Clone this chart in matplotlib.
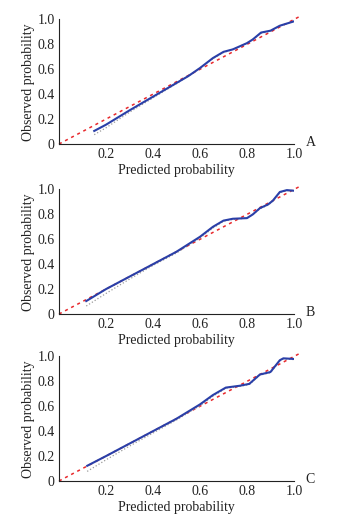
import numpy as np
import matplotlib
matplotlib.use("Agg")
import matplotlib.pyplot as plt

plt.rcParams['font.family'] = ['Liberation Serif', 'DejaVu Serif']

# apparent (blue) calibration curves
xa = [0.15, 0.2, 0.3, 0.4, 0.5, 0.55, 0.6, 0.655, 0.7, 0.74, 0.8, 0.825, 0.86, 0.9, 0.94, 1.0]
ya = [0.105, 0.155, 0.27, 0.38, 0.49, 0.545, 0.61, 0.69, 0.74, 0.76, 0.81, 0.84, 0.895, 0.91, 0.95, 0.985]
ga = [0.075, 0.13, 0.255, 0.37, 0.485, 0.545, 0.61, 0.685, 0.735, 0.76, 0.81, 0.84, 0.89, 0.905, 0.95, 0.985]

xb = [0.116, 0.2, 0.3, 0.4, 0.5, 0.6, 0.655, 0.7, 0.74, 0.8, 0.825, 0.855, 0.89, 0.91, 0.94, 0.97, 1.0]
yb = [0.104, 0.2, 0.3, 0.40, 0.50, 0.62, 0.70, 0.75, 0.765, 0.77, 0.80, 0.85, 0.88, 0.91, 0.98, 0.995, 0.99]
gb = [0.064, 0.165, 0.28, 0.39, 0.49, 0.61, 0.69, 0.745, 0.76, 0.77, 0.80, 0.845, 0.875, 0.905, 0.975, 0.99, 0.985]

xc = [0.12, 0.2, 0.3, 0.4, 0.5, 0.6, 0.655, 0.71, 0.77, 0.81, 0.855, 0.9, 0.94, 0.955, 1.0]
yc = [0.122, 0.20, 0.30, 0.40, 0.50, 0.615, 0.69, 0.75, 0.765, 0.78, 0.855, 0.875, 0.97, 0.985, 0.98]
gc = [0.077, 0.17, 0.28, 0.385, 0.49, 0.605, 0.68, 0.745, 0.76, 0.775, 0.85, 0.87, 0.965, 0.98, 0.975]

panels = [("A", xa, ya, ga), ("B", xb, yb, gb), ("C", xc, yc, gc)]
bottoms = [0.7236, 0.3973, 0.0768]

fig = plt.figure(figsize=(3.45, 5.21), dpi=100)

for (letter, x, y, g), b in zip(panels, bottoms):
    ax = fig.add_axes([0.171, b, 0.681, 0.239])
    ax.plot([0, 1.02], [0, 1.02], color='#e8282c', ls=(0, (2, 2.5)), lw=1.1, clip_on=False)
    ax.plot(x, g, color='#9a9a9a', ls=':', lw=0.9)
    ax.plot(x, y, color='#2a3fa8', lw=1.5)
    ax.set_xlim(0, 1)
    ax.set_ylim(0, 1)
    ax.set_xticks([0.2, 0.4, 0.6, 0.8, 1.0])
    ax.set_xticklabels(['0.2', '0.4', '0.6', '0.8', '1.0'])
    ax.set_yticks([0, 0.2, 0.4, 0.6, 0.8, 1.0])
    ax.set_yticklabels(['0', '0.2', '0.4', '0.6', '0.8', '1.0'])
    ax.tick_params(length=0, labelsize=10, colors='#222222', pad=3)
    for s in ['top', 'right']:
        ax.spines[s].set_visible(False)
    for s in ['left', 'bottom']:
        ax.spines[s].set_linewidth(0.8)
        ax.spines[s].set_color('#222222')
    ax.set_xlabel('Predicted probability', fontsize=10, color='#222222', labelpad=2)
    ax.set_ylabel('Observed probability', fontsize=10, color='#222222', labelpad=2)
    ax.text(1.07, 0.01, letter, fontsize=10, color='#222222', va='center', ha='center',
            transform=ax.transData, clip_on=False)

fig.savefig('out.png', dpi=100)
